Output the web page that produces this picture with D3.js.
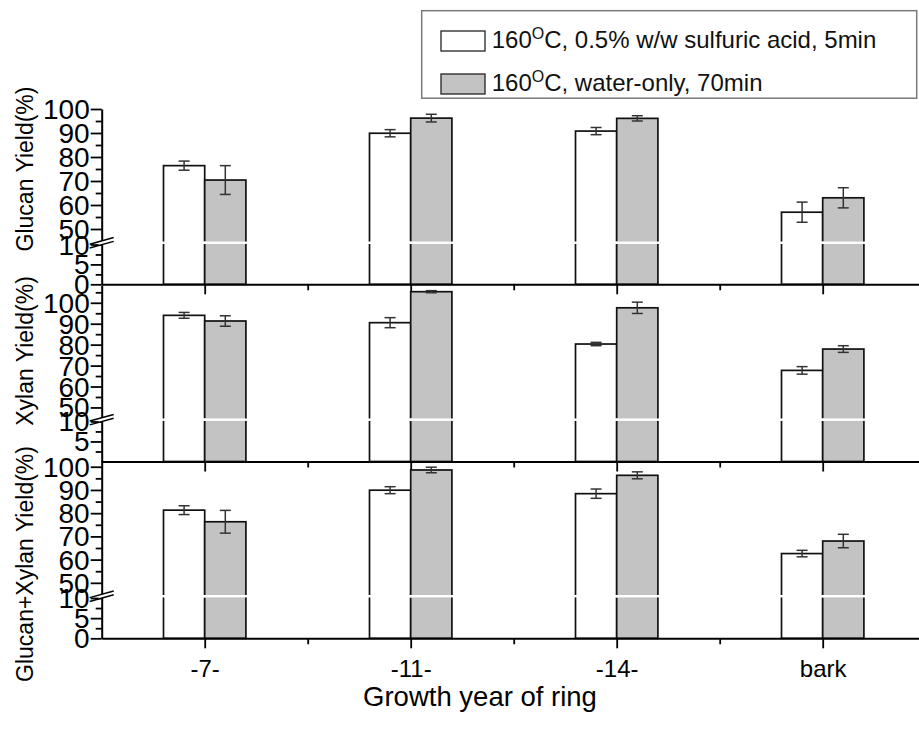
<!DOCTYPE html>
<html>
<head>
<meta charset="utf-8">
<script src="https://cdn.jsdelivr.net/npm/d3@7"></script>
<style>
  body { margin: 0; background: #fff; }
  svg { display: block; font-family: "Liberation Sans", Arial, sans-serif; }
</style>
</head>
<body>
<svg id="chart" width="919" height="733"></svg>
<script>
// ---- data ----
const categories = ["-7-", "-11-", "-14-", "bark"];
const seriesLabels = [
  ["160", "O", "C, 0.5% w/w sulfuric acid, 5min"],
  ["160", "O", "C, water-only, 70min"]
];
const panelTitles = ["Glucan Yield(%)", "Xylan Yield(%)", "Glucan+Xylan Yield(%)"];
const xTitle = "Growth year of ring";

const glucanAcid = [76.4, 89.9, 90.8, 57.0];
const glucanAcidErr = [1.9, 1.5, 1.5, 4.2];
const glucanWater = [70.4, 96.2, 96.1, 63.0];
const glucanWaterErr = [6.0, 1.6, 1.1, 4.2];

const xylanAcid = [94.0, 90.5, 80.3, 67.7];
const xylanAcidErr = [1.4, 2.4, 0.8, 1.8];
const xylanWater = [91.3, 105.3, 97.6, 77.9];
const xylanWaterErr = [2.5, 0.5, 2.7, 1.6];

const totalAcid = [81.3, 89.9, 88.4, 62.6];
const totalAcidErr = [1.9, 1.5, 2.0, 1.4];
const totalWater = [76.3, 98.6, 96.3, 68.0];
const totalWaterErr = [4.9, 1.2, 1.5, 2.9];

// y axis: broken between 10 and 45
const breakFrom = 10, breakTo = 45;
const yMajorLower = [0, 5, 10];
const yMinorLower = [2.5, 7.5];
const yMajorUpper = [50, 60, 70, 80, 90, 100];
const yMinorUpper = [55, 65, 75, 85, 95, 105];
const panelMax = [100, 108.5, 102.6];

// ---- layout ----
const svg = d3.select("#chart");
const axisX = 101.7;
const panelBox = [
  { bottom: 284.3, top: 109,   titleY: 169, zeroLabel: true },
  { bottom: 461.5, top: 285,   titleY: 351, zeroLabel: false },
  { bottom: 638.3, top: 460.7, titleY: 564, zeroLabel: true }
];
const panelData = [
  { values: [glucanAcid, glucanWater], errors: [glucanAcidErr, glucanWaterErr] },
  { values: [xylanAcid, xylanWater],   errors: [xylanAcidErr, xylanWaterErr] },
  { values: [totalAcid, totalWater],   errors: [totalAcidErr, totalWaterErr] }
];
const fills = ["#ffffff", "#c3c3c3"];

const x = d3.scaleLinear().domain([0.5, categories.length + 0.5]).range([axisX, 925.7]);
const barW = x(1.2) - x(1);

function makeY(box, max) {
  const H = box.bottom - box.top;
  return d3.scaleLinear()
    .domain([0, breakFrom, breakTo, max])
    .range([box.bottom, box.bottom - 0.227 * H, box.bottom - 0.247 * H, box.top]);
}

function styleAxis(g) {
  g.attr("font-family", null).attr("font-size", null);
  g.selectAll("line").attr("stroke", "#000").attr("stroke-width", 1.8);
  g.selectAll("path.domain").attr("stroke", "#000").attr("stroke-width", 2);
  g.selectAll("text").attr("fill", "#000");
}

panelBox.forEach((box, pi) => {
  const max = panelMax[pi];
  const y = makeY(box, max);
  const yBreak = (y(breakFrom) + y(breakTo)) / 2;
  const g = svg.append("g");
  const pd = panelData[pi];

  // bars
  pd.values.forEach((vals, si) => {
    g.selectAll(null).data(vals).enter().append("rect")
      .attr("x", (d, i) => x(i + 1) - barW + si * barW)
      .attr("y", d => y(d))
      .attr("width", barW)
      .attr("height", d => y(0) - y(d))
      .attr("fill", fills[si])
      .attr("stroke", "#111")
      .attr("stroke-width", 1.7);
  });

  // break gap through the bars
  pd.values.forEach((vals, si) => {
    g.selectAll(null).data(vals).enter().append("rect")
      .attr("x", (d, i) => x(i + 1) - barW + si * barW - 1.5)
      .attr("y", yBreak - 1.2)
      .attr("width", barW + 3)
      .attr("height", 2.4)
      .attr("fill", "#fff");
  });

  // error bars
  pd.values.forEach((vals, si) => {
    const errs = pd.errors[si];
    vals.forEach((v, i) => {
      const cx = x(i + 1) - barW / 2 + si * barW;
      const e = errs[i];
      const eg = g.append("g").attr("stroke", "#333").attr("stroke-width", 1.5);
      eg.append("line").attr("x1", cx).attr("x2", cx).attr("y1", y(v - e)).attr("y2", y(v + e));
      [v - e, v + e].forEach(t => {
        eg.append("line").attr("x1", cx - 5.5).attr("x2", cx + 5.5).attr("y1", y(t)).attr("y2", y(t));
      });
    });
  });

  // x axis
  const isBottom = pi === panelBox.length - 1;
  const xMajor = d3.axisBottom(x).tickValues(categories.map((c, i) => i + 1))
    .tickSize(10).tickSizeOuter(0).tickPadding(12)
    .tickFormat(d => isBottom ? categories[d - 1] : "");
  const xg = g.append("g").attr("transform", `translate(0,${box.bottom})`).call(xMajor);
  styleAxis(xg);
  xg.selectAll("text").attr("font-size", 24);
  const xMinor = d3.axisBottom(x).tickValues(categories.slice(1).map((c, i) => i + 1.5))
    .tickSize(6).tickSizeOuter(0).tickFormat("");
  const xg2 = g.append("g").attr("transform", `translate(0,${box.bottom})`).call(xMinor);
  xg2.select("path.domain").remove();
  styleAxis(xg2);

  // y axis
  const major = yMajorLower.concat(yMajorUpper).filter(d => d <= max && (d !== 0 || box.zeroLabel));
  const minor = yMinorLower.concat(yMinorUpper).filter(d => d <= max);
  const yg = g.append("g").attr("transform", `translate(${axisX},0)`)
    .call(d3.axisLeft(y).tickValues(major).tickSize(11).tickSizeOuter(0).tickPadding(1).tickFormat(d3.format("d")));
  styleAxis(yg);
  yg.selectAll("text").attr("font-size", 28).attr("dy", "0.34em");
  const yg2 = g.append("g").attr("transform", `translate(${axisX},0)`)
    .call(d3.axisLeft(y).tickValues(minor).tickSize(6).tickSizeOuter(0).tickFormat(""));
  yg2.select("path.domain").remove();
  styleAxis(yg2);

  // axis break marks
  const bx = axisX, dxh = 12, slope = 3.3, off = 1.9;
  g.append("polygon")
    .attr("points", [
      [bx - 3, yBreak + off + slope * 3 / dxh],
      [bx + 3, yBreak + off - slope * 3 / dxh],
      [bx + 3, yBreak - off - slope * 3 / dxh],
      [bx - 3, yBreak - off + slope * 3 / dxh]
    ].map(p => p.join(",")).join(" "))
    .attr("fill", "#fff");
  [off, -off].forEach(o => {
    g.append("line")
      .attr("x1", bx - dxh).attr("y1", yBreak + o + slope)
      .attr("x2", bx + dxh).attr("y2", yBreak + o - slope)
      .attr("stroke", "#000").attr("stroke-width", 1.5);
  });

  // panel title
  g.append("text")
    .attr("transform", `translate(33,${box.titleY}) rotate(-90)`)
    .attr("text-anchor", "middle")
    .attr("font-size", 23)
    .attr("fill", "#000")
    .text(panelTitles[pi]);
});

// x axis title
svg.append("text")
  .attr("x", 480).attr("y", 706)
  .attr("text-anchor", "middle")
  .attr("font-size", 27.5)
  .attr("fill", "#000")
  .text(xTitle);

// legend
const legend = svg.append("g");
legend.append("rect")
  .attr("x", 421.7).attr("y", 10.7).attr("width", 495).attr("height", 87.5)
  .attr("fill", "#fff").attr("stroke", "#7a7a7a").attr("stroke-width", 1.5);
const legendRowY = [31, 74];
const legendBaseline = [48.3, 90.7];
seriesLabels.forEach((parts, si) => {
  legend.append("rect")
    .attr("x", 441).attr("y", legendRowY[si]).attr("width", 44).attr("height", 20)
    .attr("fill", fills[si]).attr("stroke", "#222").attr("stroke-width", 1.3);
  const t = legend.append("text")
    .attr("x", 491.7).attr("y", legendBaseline[si])
    .attr("font-size", 24).attr("fill", "#111");
  t.append("tspan").text(parts[0]);
  t.append("tspan").attr("font-size", 16).attr("dy", -9).text(parts[1]);
  t.append("tspan").attr("dy", 9).text(parts[2]);
});
</script>
</body>
</html>
